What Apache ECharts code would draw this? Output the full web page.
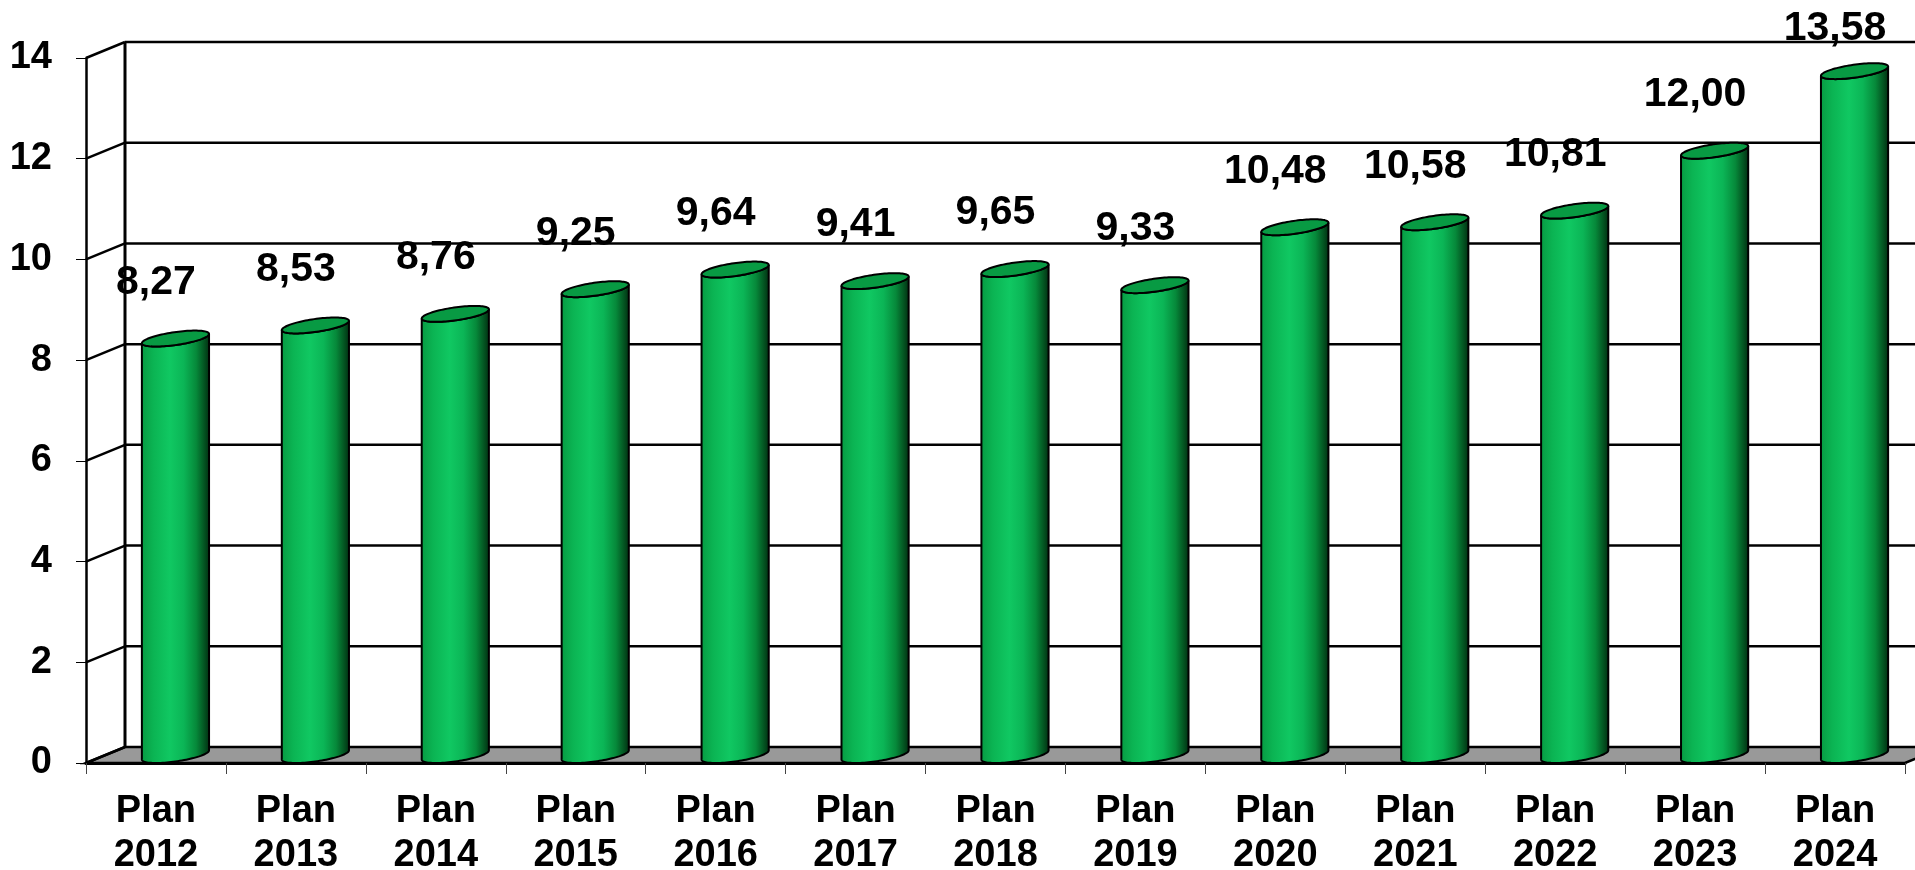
<!DOCTYPE html>
<html>
<head>
<meta charset="utf-8">
<script src="https://cdn.jsdelivr.net/npm/echarts@6/dist/echarts.min.js"></script>
<style>
  html, body { margin: 0; padding: 0; background: #fff; }
  #chart { width: 1915px; height: 870px; }
</style>
</head>
<body>
<div id="chart"></div>
<script>
// Planned values per year
const categories = ['Plan\n2012', 'Plan\n2013', 'Plan\n2014', 'Plan\n2015', 'Plan\n2016', 'Plan\n2017',
  'Plan\n2018', 'Plan\n2019', 'Plan\n2020', 'Plan\n2021', 'Plan\n2022', 'Plan\n2023', 'Plan\n2024'];
const values = [8.27, 8.53, 8.76, 9.25, 9.64, 9.41, 9.65, 9.33, 10.48, 10.58, 10.81, 12.00, 13.58];
const yTicks = [0, 2, 4, 6, 8, 10, 12, 14];

// Oblique depth of the 3D frame (screen pixels)
const DX = 39, DY = -16;
const FONT = '"Liberation Sans", Arial, sans-serif';

function fmt(v) { return v.toFixed(2).replace('.', ','); }

// Walls, floor and back grid lines
function renderFrame(params, api) {
  const cs = params.coordSys;
  const x0 = cs.x, x1 = cs.x + cs.width;
  const yFloor = api.coord([0, 0])[1];
  const yTop = api.coord([0, yTicks[yTicks.length - 1]])[1];
  const line = { stroke: '#000', lineWidth: 2.5 };
  const children = [];
  children.push({
    type: 'polygon',
    shape: { points: [[x0, yFloor], [x1, yFloor], [x1 + DX, yFloor + DY], [x0 + DX, yFloor + DY]] },
    style: { fill: '#999999', stroke: '#000', lineWidth: 2.5 }
  });
  children.push({
    type: 'line',
    shape: { x1: x0 + DX, y1: yTop + DY, x2: x0 + DX, y2: yFloor + DY },
    style: Object.assign({}, line, { lineWidth: 3 })
  });
  yTicks.forEach(function (v) {
    const y = api.coord([0, v])[1];
    children.push({ type: 'line', shape: { x1: x0, y1: y, x2: x0 + DX, y2: y + DY }, style: line });
    if (v > 0) {
      children.push({ type: 'line', shape: { x1: x0 + DX, y1: y + DY, x2: x1 + DX, y2: y + DY }, style: line });
    }
  });
  return { type: 'group', children: children };
}

// Green cylinders with value labels
function renderCylinder(params, api) {
  const i = api.value(0), v = api.value(1);
  const top = api.coord([i, v]);
  const base = api.coord([i, 0]);
  const band = api.size([1, 0])[0];
  const half = band * 0.24;
  const q = 21;
  const ux = 0.925, uy = -0.38;
  const r = Math.sqrt(Math.max(half * half - (q * ux) * (q * ux), 1));
  const cx = top[0] + DX / 2;
  const yT = top[1] + DY / 2;
  const yB = base[1] + DY / 2;
  const thR = Math.atan2(q * ux, r);
  function pt(cy, th) {
    return [cx + r * Math.cos(th) + q * ux * Math.sin(th), cy + q * uy * Math.sin(th)];
  }
  const N = 48;
  const body = [];
  for (let k = 0; k <= N; k++) {
    const th = thR + Math.PI + Math.PI * k / N;
    body.push(pt(yB, th));
  }
  for (let k = N; k >= 0; k--) {
    const th = thR + Math.PI + Math.PI * k / N;
    body.push(pt(yT, th));
  }
  const cap = [];
  for (let k = 0; k < 96; k++) cap.push(pt(yT, 2 * Math.PI * k / 96));
  // keep the value label inside the chart area
  const labelY = Math.max(yT - 56, 29);
  return {
    type: 'group',
    children: [
      {
        type: 'polygon',
        shape: { points: body },
        style: {
          fill: {
            type: 'linear', x: 0, y: 0, x2: 1, y2: 0,
            colorStops: [
              { offset: 0, color: '#079a42' },
              { offset: 0.18, color: '#0bb453' },
              { offset: 0.42, color: '#10c862' },
              { offset: 0.62, color: '#0bb556' },
              { offset: 0.8, color: '#06893a' },
              { offset: 0.93, color: '#034d1e' },
              { offset: 1, color: '#012a10' }
            ]
          },
          stroke: '#000', lineWidth: 2
        }
      },
      {
        type: 'polygon',
        shape: { points: cap },
        style: { fill: '#089a43', stroke: '#000', lineWidth: 2 }
      },
      {
        type: 'text',
        style: {
          text: fmt(v), x: top[0], y: labelY,
          align: 'center', verticalAlign: 'middle',
          font: 'bold 41px ' + FONT, fill: '#000'
        }
      }
    ]
  };
}

const chart = echarts.init(document.getElementById('chart'), null, { renderer: 'canvas' });
chart.setOption({
  animation: false,
  backgroundColor: '#ffffff',
  grid: { left: 86, right: 10, top: 58, bottom: 107, containLabel: false, outerBoundsMode: 'none' },
  xAxis: {
    type: 'category',
    data: categories,
    z: 10,
    axisLine: { show: true, lineStyle: { color: '#000', width: 3 } },
    axisTick: { show: true, length: 11, lineStyle: { color: '#444', width: 1 } },
    axisLabel: {
      interval: 0, margin: 27, fontSize: 38, fontWeight: 'bold', lineHeight: 44,
      color: '#000', fontFamily: FONT
    },
    splitLine: { show: false }
  },
  yAxis: {
    type: 'value', min: 0, max: 14, interval: 2,
    z: 10,
    axisLine: { show: true, lineStyle: { color: '#000', width: 2.5 } },
    axisTick: { show: true, length: 10, lineStyle: { color: '#000', width: 1 } },
    axisLabel: { margin: 34, fontSize: 38, fontWeight: 'bold', color: '#000', fontFamily: FONT },
    splitLine: { show: false }
  },
  series: [
    {
      type: 'custom',
      renderItem: renderFrame,
      data: [[0, 0]],
      z: 1,
      silent: true
    },
    {
      type: 'custom',
      renderItem: renderCylinder,
      data: values.map(function (v, i) { return [i, v]; }),
      encode: { x: 0, y: 1 },
      z: 3,
      clip: false
    }
  ]
});
</script>
</body>
</html>
